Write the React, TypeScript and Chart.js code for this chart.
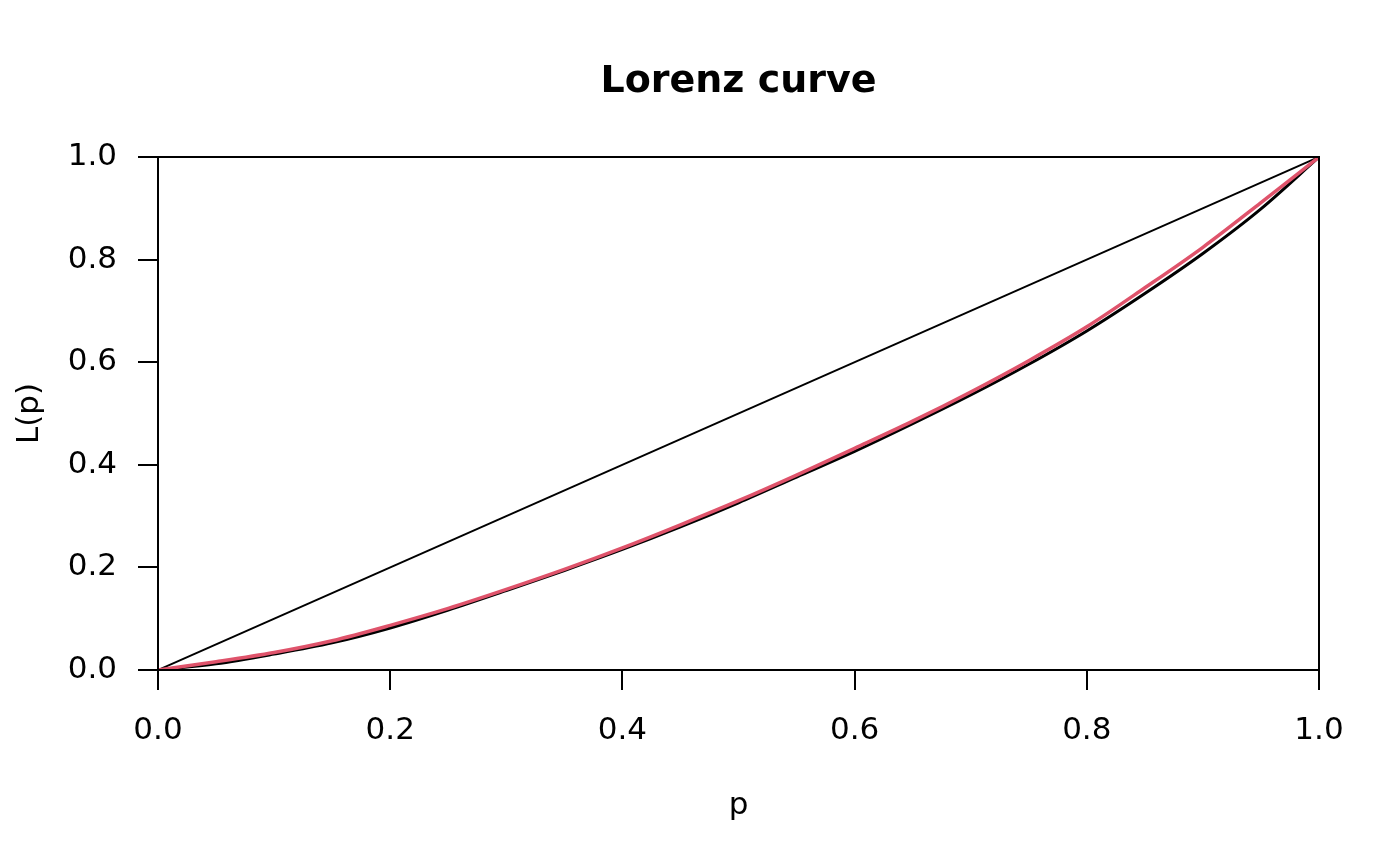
import { useRef, useEffect } from "react"
import { Chart, registerables } from "chart.js"

Chart.register(...registerables)

// values
const pGrid = [0, 0.05, 0.1, 0.15, 0.2, 0.25, 0.3, 0.35, 0.4, 0.45, 0.5, 0.55, 0.6, 0.65, 0.7, 0.75, 0.8, 0.85, 0.9, 0.95, 1]
const fittedL = [0, 0.016, 0.034, 0.057, 0.087, 0.12, 0.157, 0.196, 0.238, 0.283, 0.33, 0.38, 0.432, 0.485, 0.542, 0.603, 0.669, 0.745, 0.824, 0.911, 1]
const empiricalL = [0, 0.012, 0.031, 0.053, 0.082, 0.117, 0.155, 0.194, 0.235, 0.279, 0.326, 0.376, 0.426, 0.48, 0.536, 0.596, 0.661, 0.734, 0.812, 0.899, 1]
const equalityP = [0, 1]
const equalityL = [0, 1]
const tickValues = [0, 0.2, 0.4, 0.6, 0.8, 1]

const FONT = "'DejaVu Sans', 'Liberation Sans', sans-serif"

export default function App() {
    const chartRef = useRef<HTMLCanvasElement | null>(null)
    const chartInstance = useRef<Chart | null>(null)

    useEffect(() => {
        if (!chartRef.current) return
        if (chartInstance.current) {
            chartInstance.current.destroy()
        }
        const ctx = chartRef.current.getContext("2d")
        if (!ctx) return

        // frame box + title + axis labels, drawn like base R graphics
        const decorations = {
            id: "decorations",
            afterDraw: (chart: Chart) => {
                const c = chart.ctx
                const area = chart.chartArea
                c.save()
                c.strokeStyle = "#000"
                c.lineWidth = 2
                c.strokeRect(area.left, area.top, area.right - area.left, area.bottom - area.top)

                const cx = (area.left + area.right) / 2
                const cy = (area.top + area.bottom) / 2
                c.fillStyle = "#000"
                c.textAlign = "center"
                c.textBaseline = "alphabetic"
                c.font = `bold 38px ${FONT}`
                c.fillText("Lorenz curve", cx, 92)

                c.font = `31px ${FONT}`
                c.fillText("p", cx, 814)

                c.translate(38, cy)
                c.rotate(-Math.PI / 2)
                c.fillText("L(p)", 0, 0)
                c.restore()
            },
        }

        const tickFont = { family: FONT, size: 31 }

        chartInstance.current = new Chart(ctx, {
            type: "line",
            data: {
                datasets: [
                    {
                        label: "fitted",
                        data: pGrid.map((p, i) => ({ x: p, y: fittedL[i] })),
                        borderColor: "#DF536B",
                        borderWidth: 3.5,
                        pointRadius: 0,
                        cubicInterpolationMode: "monotone",
                    },
                    {
                        label: "empirical",
                        data: pGrid.map((p, i) => ({ x: p, y: empiricalL[i] })),
                        borderColor: "#000",
                        borderWidth: 3,
                        pointRadius: 0,
                        cubicInterpolationMode: "monotone",
                    },
                    {
                        label: "equality",
                        data: equalityP.map((p, i) => ({ x: p, y: equalityL[i] })),
                        borderColor: "#000",
                        borderWidth: 2,
                        pointRadius: 0,
                    },
                ],
            },
            options: {
                responsive: true,
                maintainAspectRatio: false,
                animation: false,
                layout: { padding: { top: 157, right: 81, left: 0, bottom: 0 } },
                plugins: {
                    legend: { display: false },
                    tooltip: { enabled: false },
                    title: { display: false },
                },
                scales: {
                    x: {
                        type: "linear",
                        min: 0,
                        max: 1,
                        afterBuildTicks: (scale) => {
                            scale.ticks = tickValues.map((v) => ({ value: v }))
                        },
                        afterFit: (scale) => {
                            scale.height = 196
                        },
                        ticks: {
                            color: "#000",
                            font: tickFont,
                            padding: 22,
                            maxRotation: 0,
                            autoSkip: false,
                            callback: (v) => Number(v).toFixed(1),
                        },
                        grid: { drawOnChartArea: false, drawTicks: true, tickLength: 20, color: "#000", lineWidth: 2 },
                        border: { display: false },
                    },
                    y: {
                        type: "linear",
                        min: 0,
                        max: 1,
                        afterBuildTicks: (scale) => {
                            scale.ticks = tickValues.map((v) => ({ value: v }))
                        },
                        afterFit: (scale) => {
                            scale.width = 158
                        },
                        ticks: {
                            color: "#000",
                            font: tickFont,
                            padding: 21,
                            autoSkip: false,
                            callback: (v) => Number(v).toFixed(1),
                        },
                        grid: { drawOnChartArea: false, drawTicks: true, tickLength: 20, color: "#000", lineWidth: 2 },
                        border: { display: false },
                    },
                },
            },
            plugins: [decorations],
        })

        return () => {
            if (chartInstance.current) {
                chartInstance.current.destroy()
                chartInstance.current = null
            }
        }
    }, [])

    return (
        <div style={{ position: "fixed", left: 0, top: 0, width: 1400, height: 866, background: "#fff" }}>
            <canvas ref={chartRef} />
        </div>
    )
}
